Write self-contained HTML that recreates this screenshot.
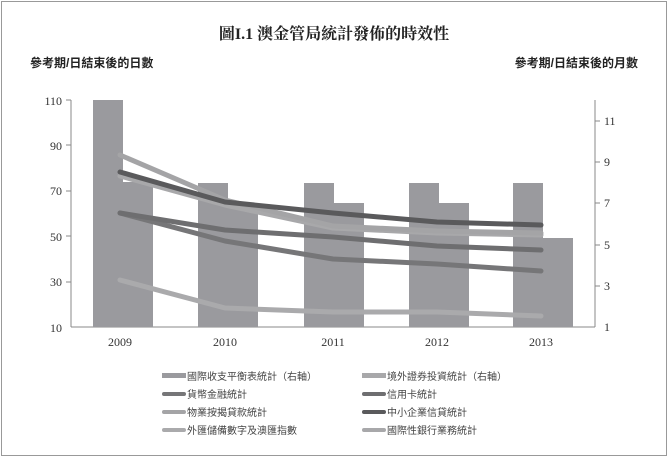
<!DOCTYPE html>
<html><head><meta charset="utf-8"><style>
body{margin:0;background:#fff;}
svg text{font-family:"Liberation Serif","Noto Serif CJK SC",serif;}
.cjk{font-family:"Liberation Sans","Noto Sans CJK TC",sans-serif;}
</style></head><body>
<svg width="668" height="457" xmlns="http://www.w3.org/2000/svg">
<rect x="1.5" y="1.5" width="665" height="454" fill="#fff" stroke="#999" stroke-width="1"/>
<text x="334" y="39" font-size="16" font-weight="bold" text-anchor="middle" fill="#222" style="font-family:'Liberation Serif','Noto Serif CJK SC',serif">圖I.1 澳金管局統計發佈的時效性</text>
<text x="30" y="67" font-size="12" font-weight="bold" class="cjk" fill="#222">參考期/日結束後的日數</text>
<text x="638" y="67" font-size="12" font-weight="bold" class="cjk" fill="#222" text-anchor="end">參考期/日結束後的月數</text>
<line x1="71" y1="100" x2="71" y2="327" stroke="#888"/>
<line x1="71" y1="327" x2="595" y2="327" stroke="#888"/>
<line x1="595" y1="100" x2="595" y2="327" stroke="#888"/>
<g font-size="12" fill="#333" text-anchor="end">
<text x="62" y="105">110</text><text x="62" y="150">90</text><text x="62" y="195">70</text><text x="62" y="241">50</text><text x="62" y="286">30</text><text x="62" y="332">10</text>
</g>
<g stroke="#888"><line x1="66" y1="100" x2="71" y2="100"/><line x1="66" y1="145" x2="71" y2="145"/><line x1="66" y1="191" x2="71" y2="191"/><line x1="66" y1="236" x2="71" y2="236"/><line x1="66" y1="282" x2="71" y2="282"/>
<line x1="595" y1="121" x2="600" y2="121"/><line x1="595" y1="162" x2="600" y2="162"/><line x1="595" y1="203" x2="600" y2="203"/><line x1="595" y1="245" x2="600" y2="245"/><line x1="595" y1="286" x2="600" y2="286"/></g>
<g font-size="12" fill="#333">
<text x="604" y="125">11</text><text x="604" y="166">9</text><text x="604" y="207">7</text><text x="604" y="249">5</text><text x="604" y="290">3</text><text x="604" y="331">1</text>
</g>
<g font-size="12" fill="#333" text-anchor="middle">
<text x="120" y="346">2009</text><text x="225" y="346">2010</text><text x="333" y="346">2011</text><text x="437" y="346">2012</text><text x="541" y="346">2013</text>
</g>
<g fill="#9a9a9e">
<rect x="93" y="100" width="30" height="227"/><rect x="123" y="182" width="30" height="145"/>
<rect x="198" y="183" width="30" height="144"/><rect x="228" y="205" width="30" height="122"/>
<rect x="304" y="183" width="30" height="144"/><rect x="334" y="203" width="30" height="124"/>
<rect x="409" y="183" width="30" height="144"/><rect x="439" y="203" width="30" height="124"/>
<rect x="513" y="183" width="30" height="144"/><rect x="543" y="238" width="30" height="89"/>
</g>
<g fill="none" stroke-width="5" stroke-linecap="round" stroke-linejoin="round">
<polyline stroke="#aaaaac" points="120,280 225,308 333,312 437,312 541,316"/>
<polyline stroke="#a8a8aa" points="120,176 225,205 333,228 437,233 541,235"/>
<polyline stroke="#a4a4a6" points="120,155 225,200 333,226 437,231 541,233"/>
<polyline stroke="#767678" points="120,213 225,241 333,259 437,264 541,271"/>
<polyline stroke="#6e6e70" points="120,213 225,230 333,237 437,246 541,250"/>
<polyline stroke="#5a5a5c" points="120,172 225,202 333,213 437,222 541,225"/>
</g>
<g font-size="10" fill="#444">
<rect x="162" y="373" width="24" height="5" fill="#9a9a9e"/><text x="187" y="380" class="cjk">國際收支平衡表統計（右軸）</text>
<rect x="362" y="373" width="24" height="5" fill="#a8a8aa"/><text x="387" y="380" class="cjk">境外證券投資統計（右軸）</text>
<rect x="162" y="392" width="24" height="4" rx="2" fill="#767678"/><text x="187" y="398" class="cjk">貨幣金融統計</text>
<rect x="362" y="392" width="24" height="4" rx="2" fill="#6e6e70"/><text x="387" y="398" class="cjk">信用卡統計</text>
<rect x="162" y="410" width="24" height="4" rx="2" fill="#a4a4a6"/><text x="187" y="416" class="cjk">物業按揭貸款統計</text>
<rect x="362" y="410" width="24" height="4" rx="2" fill="#5a5a5c"/><text x="387" y="416" class="cjk">中小企業信貸統計</text>
<rect x="162" y="428" width="24" height="4" rx="2" fill="#aaaaac"/><text x="187" y="434" class="cjk">外匯儲備數字及澳匯指數</text>
<rect x="362" y="428" width="24" height="4" rx="2" fill="#a8a8aa"/><text x="387" y="434" class="cjk">國際性銀行業務統計</text>
</g>
</svg>
</body></html>
